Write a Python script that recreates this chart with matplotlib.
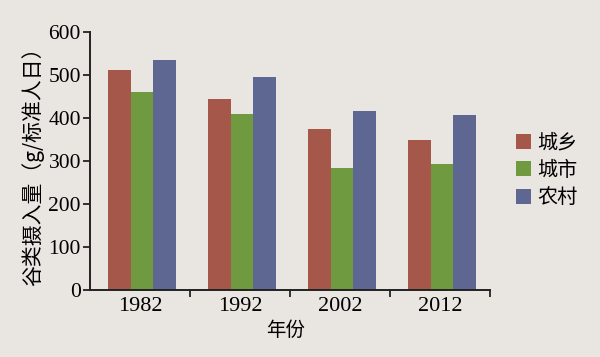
import matplotlib
matplotlib.use("Agg")
import matplotlib.pyplot as plt
import numpy as np
from matplotlib.patches import Patch

years = ["1982", "1992", "2002", "2012"]
series_names = ["城乡", "城市", "农村"]
chengxiang = [512, 445, 374, 350]
chengshi = [460, 410, 284, 292]
nongcun = [535, 495, 416, 408]
colors = ["#a5584a", "#6f9a40", "#5d6792"]

bg = "#e9e6e1"
cjk = ["Noto Sans CJK SC", "DejaVu Sans"]
serif = "Liberation Serif"

fig = plt.figure(figsize=(6, 3.57), dpi=100, facecolor=bg)
ax = fig.add_axes([0.15, 0.1877, 0.6667, 0.7226], facecolor=bg)

x = np.arange(len(years))
w = 0.225
for i, (vals, c) in enumerate(zip([chengxiang, chengshi, nongcun], colors)):
    ax.bar(x + (i - 1) * w + 0.02, vals, width=w, color=c, edgecolor="none")

ax.set_xlim(-0.5, len(years) - 0.5)
ax.set_ylim(0, 600)
ax.set_yticks(range(0, 601, 100))
ax.set_yticklabels([str(v) for v in range(0, 601, 100)], fontfamily=serif, fontsize=15.5)
ax.set_xticks(x)
ax.set_xticklabels(years, fontfamily=serif, fontsize=16)
ax.set_xticks(np.arange(0.5, len(years), 1.0), minor=True)
ax.tick_params(axis="x", which="major", length=0, pad=5)
ax.tick_params(axis="x", which="minor", length=5, width=1.3, direction="out", color="#222222")
ax.tick_params(axis="y", length=5, width=1.3, direction="out", pad=1.5, color="#222222")

for s in ["top", "right"]:
    ax.spines[s].set_visible(False)
for s in ["left", "bottom"]:
    ax.spines[s].set_linewidth(1.4)
    ax.spines[s].set_color("#222222")

ax.set_ylabel("谷类摄入量（g/标准人日）", fontfamily=cjk, fontsize=15, labelpad=3)
ax.set_xlabel("年份", fontfamily=cjk, fontsize=14)
ax.xaxis.set_label_coords(0.49, -0.115)

handles = [Patch(facecolor=c, edgecolor="none") for c in colors]
fig.legend(handles, series_names, loc="upper left", bbox_to_anchor=(0.83, 0.68),
           frameon=False, prop={"family": cjk, "size": 14.5},
           handlelength=0.75, handleheight=0.75, handletextpad=0.3, labelspacing=0.32)

fig.savefig("out.png", dpi=100, facecolor=bg)
